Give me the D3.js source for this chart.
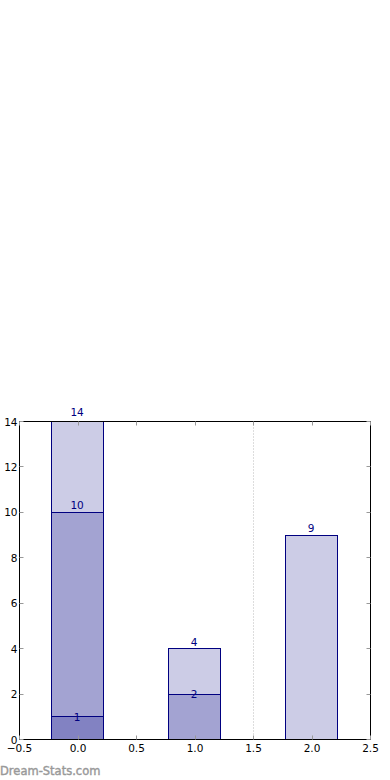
<!DOCTYPE html>
<html>
<head>
<meta charset="utf-8">
<script src="https://cdn.jsdelivr.net/npm/d3@7"></script>
<style>
  body { margin: 0; background: #fff; }
  svg { display: block; }
</style>
</head>
<body>
<script>
// bar positions and the stacked (overlapping) layers drawn on each
var positions = [0, 1, 2];
var layers = [
  [14, 10, 1],
  [4, 2],
  [9]
];
var xTicks = [-0.5, 0, 0.5, 1, 1.5, 2, 2.5];
var yTicks = [0, 2, 4, 6, 8, 10, 12, 14];
var divider = 1.5;

var width = 390, height = 780;
var margin = {top: 421.5, right: 19.5, bottom: 40.5, left: 19.5};

var x = d3.scaleLinear().domain([-0.5, 2.5]).range([margin.left, width - margin.right]);
var y = d3.scaleLinear().domain([0, 14]).range([height - margin.bottom, margin.top]);
var px = v => Math.round(v - 0.5) + 0.5;

var navy = "#000080";
var fmt = d => d3.format(".1f")(d).replace("-", "\u2212");

var svg = d3.select("body").append("svg")
    .attr("width", width)
    .attr("height", height)
    .attr("font-family", "DejaVu Sans, sans-serif");

// flatten into rects, every layer is navy at 0.2 alpha so overlaps darken
var rects = [];
positions.forEach((p, i) => {
  layers[i].forEach((v, j) => rects.push({pos: p, value: v, bottom: j == layers[i].length - 1 && j > 0}));
});

var bw = 0.445;
svg.append("g").selectAll("rect")
  .data(rects)
  .join("rect")
    .attr("x", d => px(x(d.pos - 0.23)))
    .attr("width", d => Math.round(x(bw) - x(0)))
    .attr("y", d => px(y(d.value)))
    .attr("height", d => px(y(0)) - px(y(d.value)))
    .attr("fill", navy)
    .attr("fill-opacity", 0.2)
    .attr("stroke", navy)
    .attr("stroke-width", 1);

// dotted divider
svg.append("line")
    .attr("x1", px(x(divider))).attr("x2", px(x(divider)))
    .attr("y1", y(14)).attr("y2", y(0))
    .attr("stroke", "#bbb")
    .attr("stroke-dasharray", "1,2");

// value labels
svg.append("g")
    .attr("font-size", 10.5)
    .attr("fill", navy)
    .attr("text-anchor", "middle")
  .selectAll("text")
  .data(rects)
  .join("text")
    .attr("x", d => x(d.pos - 0.23 + bw / 2))
    .attr("y", d => d.bottom ? y(d.value) + 4 : y(d.value) - (d.value == 14 ? 5.5 : 3))
    .text(d => d.value);

// frame
svg.append("rect")
    .attr("x", px(x(-0.5))).attr("y", px(y(14)))
    .attr("width", px(x(2.5)) - px(x(-0.5)))
    .attr("height", px(y(0)) - px(y(14)))
    .attr("fill", "none")
    .attr("stroke", "#000")
    .attr("stroke-width", 1);

// ticks on all four sides, pointing inward
var tk = 4;
var tg = svg.append("g").attr("stroke", "#999").attr("stroke-width", 1);
xTicks.forEach(t => {
  tg.append("line").attr("x1", px(x(t))).attr("x2", px(x(t))).attr("y1", y(0)).attr("y2", y(0) - tk);
  tg.append("line").attr("x1", px(x(t))).attr("x2", px(x(t))).attr("y1", y(14)).attr("y2", y(14) + tk);
});
yTicks.forEach(t => {
  tg.append("line").attr("x1", x(-0.5)).attr("x2", x(-0.5) + tk).attr("y1", px(y(t))).attr("y2", px(y(t)));
  tg.append("line").attr("x1", x(2.5)).attr("x2", x(2.5) - tk).attr("y1", px(y(t))).attr("y2", px(y(t)));
});

// tick labels
svg.append("g")
    .attr("font-size", 10.5)
    .attr("text-anchor", "middle")
  .selectAll("text")
  .data(xTicks)
  .join("text")
    .attr("x", d => x(d))
    .attr("y", y(0) + 12)
    .text(fmt);

svg.append("g")
    .attr("font-size", 10.5)
    .attr("text-anchor", "end")
  .selectAll("text")
  .data(yTicks)
  .join("text")
    .attr("x", x(-0.5) - 2)
    .attr("y", d => y(d) + 4)
    .text(d => d);

// watermark
svg.append("text")
    .attr("x", 0)
    .attr("y", 775)
    .attr("font-size", 11.5)
    .attr("fill", "#999")
    .attr("stroke", "#999")
    .attr("stroke-width", 0.4)
    .text("Dream-Stats.com");
</script>
</body>
</html>
